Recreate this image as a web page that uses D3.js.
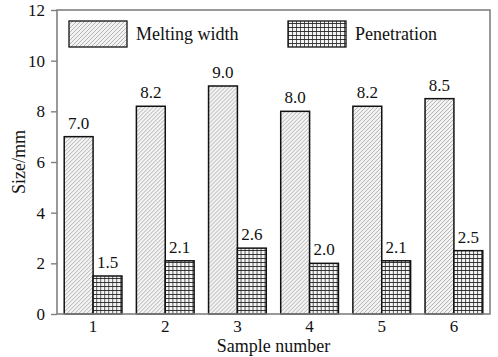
<!DOCTYPE html>
<html>
<head>
<meta charset="utf-8">
<script src="https://cdn.jsdelivr.net/npm/d3@7/dist/d3.min.js"></script>
<style>
  body { margin: 0; background: #fff; }
</style>
</head>
<body>
<svg id="chart" width="498" height="357"></svg>
<script>
// Sample numbers and measured sizes (mm)
const samples = ["1", "2", "3", "4", "5", "6"];
const meltingWidth = [7.0, 8.2, 9.0, 8.0, 8.2, 8.5];
const penetration = [1.5, 2.1, 2.6, 2.0, 2.1, 2.5];
const seriesNames = ["Melting width", "Penetration"];
const yTicks = [0, 2, 4, 6, 8, 10, 12];

const FONT = "'Liberation Serif', Tinos, 'Noto Serif', 'DejaVu Serif', 'Times New Roman', Times, serif";

const svg = d3.select("#chart");
const margin = { left: 57, right: 8, top: 10, bottom: 43 };
const W = 498, H = 357;
const x0 = margin.left, x1 = W - margin.right;
const y0 = H - margin.bottom, y1 = margin.top;

const x = d3.scaleBand().domain(samples).range([x0, x1]).paddingInner(0.2).paddingOuter(0.1);
const xs = d3.scaleBand().domain(seriesNames).range([0, x.bandwidth()]);
const y = d3.scaleLinear().domain([0, 12]).range([y0, y1]);

// Fill patterns: diagonal hatch and grid
const defs = svg.append("defs");
const hatch = defs.append("pattern").attr("id", "hatch")
  .attr("patternUnits", "userSpaceOnUse").attr("width", 4).attr("height", 4);
hatch.append("rect").attr("width", 4).attr("height", 4).attr("fill", "#f3f3f3");
hatch.append("path").attr("d", "M-1,5 L5,-1 M-1,1 L1,-1 M3,5 L5,3")
  .attr("stroke", "#8a8a8a").attr("stroke-width", 0.6);

const grid = defs.append("pattern").attr("id", "grid")
  .attr("patternUnits", "userSpaceOnUse").attr("width", 8).attr("height", 8);
grid.append("rect").attr("width", 8).attr("height", 8).attr("fill", "#f4f4f4");
grid.append("path").attr("d", "M0.5,0 V8 M4.5,0 V8")
  .attr("stroke", "#333").attr("stroke-width", 0.8);
grid.append("path").attr("d", "M0,2.5 H8 M0,6.5 H8")
  .attr("stroke", "#222").attr("stroke-width", 0.9);

const fills = ["url(#hatch)", "url(#grid)"];
const data = samples.map((s, i) => ({ s, vals: [meltingWidth[i], penetration[i]] }));

// Bars
const groups = svg.append("g").selectAll("g").data(data).join("g")
  .attr("transform", d => `translate(${x(d.s)},0)`);
groups.selectAll("rect").data(d => d.vals.map((v, k) => ({ v, k }))).join("rect")
  .attr("x", d => xs(seriesNames[d.k]))
  .attr("y", d => y(d.v))
  .attr("width", xs.bandwidth())
  .attr("height", d => y(0) - y(d.v))
  .attr("fill", d => fills[d.k])
  .attr("stroke", "#111").attr("stroke-width", 1.5);

// Value labels
groups.selectAll("text").data(d => d.vals.map((v, k) => ({ v, k }))).join("text")
  .attr("x", d => xs(seriesNames[d.k]) + xs.bandwidth() / 2)
  .attr("y", d => y(d.v) - 8)
  .attr("text-anchor", "middle")
  .style("font-family", FONT).style("font-size", "17px").attr("fill", "#111")
  .text(d => d.v.toFixed(1));

// Frame
svg.append("rect").attr("x", x0).attr("y", y1).attr("width", x1 - x0).attr("height", y0 - y1)
  .attr("fill", "none").attr("stroke", "#808080").attr("stroke-width", 1.6);

// Y axis
const yAxis = svg.append("g").attr("transform", `translate(${x0},0)`)
  .call(d3.axisLeft(y).tickValues(yTicks).tickSize(6).tickFormat(d3.format("d")));
yAxis.select(".domain").remove();
yAxis.selectAll(".tick line").attr("stroke", "#808080").attr("stroke-width", 1.4);
yAxis.selectAll(".tick text").style("font-family", FONT).style("font-size", "17px")
  .attr("fill", "#111").attr("x", -12);

// X axis
const xAxis = svg.append("g").attr("transform", `translate(0,${y0})`)
  .call(d3.axisBottom(x).tickSize(0));
xAxis.select(".domain").remove();
xAxis.selectAll(".tick text").style("font-family", FONT).style("font-size", "17px")
  .attr("fill", "#111").attr("y", 18).attr("dy", 0);

// Axis titles
svg.append("text").attr("x", (x0 + x1) / 2).attr("y", 352)
  .attr("text-anchor", "middle").style("font-family", FONT).style("font-size", "18px")
  .attr("fill", "#111").text("Sample number");
svg.append("text").attr("transform", `translate(25,${(y0 + y1) / 2}) rotate(-90)`)
  .attr("text-anchor", "middle").style("font-family", FONT).style("font-size", "18px")
  .attr("fill", "#111").text("Size/mm");

// Legend
const legendX = [69, 288];
const leg = svg.append("g").selectAll("g").data(seriesNames).join("g")
  .attr("transform", (d, i) => `translate(${legendX[i]},21)`);
leg.append("rect").attr("width", 58).attr("height", 26)
  .attr("fill", (d, i) => fills[i]).attr("stroke", "#111").attr("stroke-width", 1.3);
leg.append("text").attr("x", 67).attr("y", 19)
  .style("font-family", FONT).style("font-size", "18px").attr("fill", "#111").text(d => d);
</script>
</body>
</html>
